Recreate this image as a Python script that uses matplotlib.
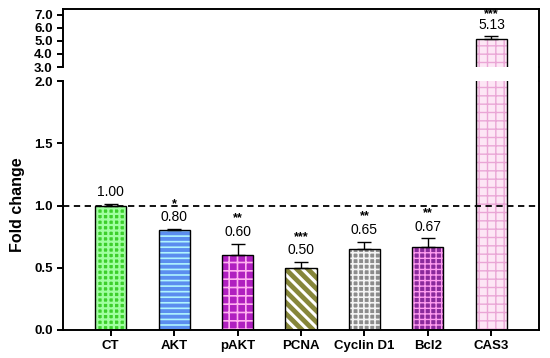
import matplotlib.pyplot as plt
from matplotlib.lines import Line2D

plt.rcParams['font.family'] = ['Liberation Sans', 'DejaVu Sans']

labels = ['CT', 'AKT', 'pAKT', 'PCNA', 'Cyclin D1', 'Bcl2', 'CAS3']
values = [1.00, 0.80, 0.60, 0.50, 0.65, 0.67, 5.13]
errors = [0.01, 0.01, 0.09, 0.045, 0.06, 0.066, 0.28]
stars = ['', '*', '**', '***', '**', '**', '***']
faces = ['#3ccf2a', '#5b8def', '#b01fc0', '#86863a', '#8c8c8c', '#8a2a9c', '#fde6f5']
hatch_cols = ['#a0ffa0', '#b0f4ff', '#ffb0f0', '#ffffff', '#f4f4f4', '#ff9cf0', '#eaa6d6']
hatches = ['+++', '---', '++', '\\\\\\', '+++', '+++', '++']
hatch_lw = [1.6, 1.2, 1.2, 2.2, 1.2, 1.0, 1.0]

fig = plt.figure(figsize=(5.5, 3.58), dpi=100)
left, width = 63 / 550, (539 - 63) / 550
ax_top = fig.add_axes([left, 1 - 67 / 358, width, (67 - 9) / 358])
ax_bot = fig.add_axes([left, 1 - 330 / 358, width, (330 - 81) / 358])

x = list(range(len(labels)))
for ax in (ax_top, ax_bot):
    for i in x:
        plt.rcParams['hatch.linewidth'] = hatch_lw[i]
        ax.bar(i, values[i], width=0.49, color=faces[i], edgecolor=hatch_cols[i],
               linewidth=0, hatch=hatches[i], zorder=2)
    ax.bar(x, values, width=0.49, fill=False, edgecolor='black',
           linewidth=1.0, zorder=3)
    ax.errorbar(x, values, yerr=[[0] * len(x), errors], fmt='none',
                ecolor='black', elinewidth=1.0, capsize=5, capthick=1.0, zorder=4)
    ax.set_xlim(-0.75, 6.75)
    for s in ax.spines.values():
        s.set_linewidth(1.4)
    ax.tick_params(axis='y', width=1.4, length=4, labelsize=9.5)

ax_top.set_ylim(3.0, 7.45)
ax_top.set_yticks([3.0, 4.0, 5.0, 6.0, 7.0])
ax_top.set_yticklabels(['3.0', '4.0', '5.0', '6.0', '7.0'], fontweight='bold', fontsize=9.5)
ax_top.spines['bottom'].set_visible(False)
ax_top.set_xticks([])

ax_bot.set_ylim(0, 2.0)
ax_bot.set_yticks([0.0, 0.5, 1.0, 1.5, 2.0])
ax_bot.set_yticklabels(['0.0', '0.5', '1.0', '1.5', '2.0'], fontweight='bold', fontsize=9.5)
ax_bot.spines['top'].set_visible(False)
ax_bot.set_xticks(x)
ax_bot.set_xticklabels(labels, fontweight='bold', fontsize=9.5)
ax_bot.tick_params(axis='x', width=1.4, length=4)
ax_bot.axhline(1.0, color='black', linestyle=(0, (3.5, 2.5)), linewidth=1.3, zorder=5)

# right edge runs through the break
fig.add_artist(Line2D([539 / 550, 539 / 550], [1 - 81 / 358, 1 - 67 / 358],
                      color='black', linewidth=1.4))

for i, (v, e, st) in enumerate(zip(values, errors, stars)):
    if v > 2:
        ax, lab_off, star_off = ax_top, 2.5, 11
    else:
        ax, lab_off, star_off = ax_bot, 3.5, 14
    ax.annotate(f'{v:.2f}', (i, v + e), xytext=(0, lab_off), textcoords='offset points',
                ha='center', va='bottom', fontsize=10, zorder=6, annotation_clip=False)
    if st:
        ax.annotate(st, (i, v + e), xytext=(0, star_off), textcoords='offset points',
                    ha='center', va='bottom', fontsize=9, fontweight='bold', zorder=6,
                    annotation_clip=False)

fig.text(18 / 550, 1 - 205 / 358, 'Fold change', rotation=90, ha='center',
         va='center', fontsize=11.5, fontweight='bold')

fig.savefig('out.png', dpi=100)
